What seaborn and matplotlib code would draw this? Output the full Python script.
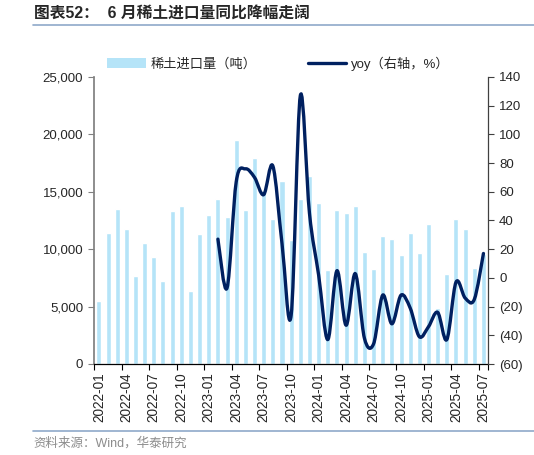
import numpy as np
import pandas as pd
import matplotlib
matplotlib.use("Agg")
import matplotlib.pyplot as plt
import seaborn as sns
from matplotlib.path import Path
from matplotlib.patches import PathPatch
from matplotlib.lines import Line2D
from matplotlib.patches import Patch
from matplotlib.ticker import FuncFormatter, FixedLocator

sns.set_theme(style="white")
plt.rcParams['font.family'] = ['Liberation Sans', 'Noto Sans CJK SC', 'DejaVu Sans']

# ---------------- data ----------------
months = [f"{y}-{m:02d}" for y in (2022, 2023, 2024, 2025) for m in range(1, 13)][:43]
imports = [5480, 11370, 13520, 11750, 7630, 10500, 9340, 7190, 13370, 13800, 6350, 11340,
           12990, 14410, 12820, 19490, 13400, 17900, 15000, 12670, 15940, 10800, 14350, 16380,
           14050, 8190, 13420, 13180, 13760, 9730, 8250, 11150, 10860, 9500, 11390, 9700,
           12170, 4850, 7810, 12630, 11730, 8400, 9600]
yoy_start = "2023-02"
yoy = [27, -7, 67, 76, 70, 58, 78, 24, -26, 127, 45, 2, -43, 5, -33, 3, -42, -46,
       -12, -32, -12, -21, -41, -34, -24, -43, -3, -14, -15, 17]

bar_label = "稀土进口量（吨）"
line_label = "yoy（右轴，%）"
title = "图表52：  6 月稀土进口量同比降幅走阔"
source = "资料来源：Wind，华泰研究"

bar_color = "#B5E4F8"
line_color = "#002060"

df = pd.DataFrame({"month": months, "imports": imports})

fig = plt.figure(figsize=(5.34, 4.55), dpi=100)
ax = fig.add_axes([0.1766, 0.2, 0.9139 - 0.1766, 0.8308 - 0.2])
sns.barplot(data=df, x="month", y="imports", color=bar_color, width=0.55,
            saturation=1, ax=ax, zorder=1)
ax.set_xlim(-0.5, len(months) - 0.5)
ax.set_ylim(0, 25000)
ax.set_yticks(np.arange(0, 25001, 5000))
ax.yaxis.set_major_formatter(FuncFormatter(lambda v, p: f"{int(v):,}"))
ax.set_xlabel("")
ax.set_ylabel("")

# x ticks: marks at category boundaries every 3 months, labels at centers
label_pos = list(range(0, len(months), 3))
ax.xaxis.set_major_locator(FixedLocator([p - 0.5 for p in label_pos] + [len(months) - 0.5]))
ax.set_xticklabels([])
ax.xaxis.set_minor_locator(FixedLocator(label_pos))
ax.set_xticks(label_pos, minor=True)
ax.set_xticklabels([months[i] for i in label_pos], minor=True, rotation=90, fontsize=9.8)
ax.tick_params(axis="x", which="major", direction="out", length=4, width=0.8, color="black", bottom=True)
ax.tick_params(axis="x", which="minor", length=0, pad=6, bottom=True)
ax.tick_params(axis="y", direction="out", length=4, width=0.8, color="#808080", labelsize=9.5, left=True, pad=4)

for s in ["top", "right"]:
    ax.spines[s].set_visible(False)
ax.spines["left"].set_color("#808080")
ax.spines["bottom"].set_color("black")
ax.spines["bottom"].set_linewidth(0.9)

ax2 = ax.twinx()
ax2.set_ylim(-60, 140)
ax2.set_yticks(np.arange(-60, 141, 20))
ax2.yaxis.set_major_formatter(FuncFormatter(lambda v, p: f"({abs(int(v))})" if v < 0 else f"{int(v)}"))
ax2.tick_params(axis="y", direction="out", length=4, width=0.8, color="#404040", labelsize=9.5, right=True, pad=4)
for s in ["top", "left", "bottom"]:
    ax2.spines[s].set_visible(False)
ax2.spines["right"].set_color("#404040")
ax2.spines["right"].set_linewidth(0.9)
ax2.grid(False)
ax.grid(False)

# smoothed yoy line (Catmull-Rom Bezier through data points)
i0 = months.index(yoy_start)
xs = np.arange(i0, i0 + len(yoy), dtype=float)
ys = np.array(yoy, dtype=float)
P = np.column_stack([xs, ys])
verts = [tuple(P[0])]
codes = [Path.MOVETO]
n = len(P)
for i in range(n - 1):
    p0 = P[i - 1] if i > 0 else P[i]
    p1 = P[i]
    p2 = P[i + 1]
    p3 = P[i + 2] if i + 2 < n else P[i + 1]
    c1 = p1 + (p2 - p0) / 6.0
    c2 = p2 - (p3 - p1) / 6.0
    verts += [tuple(c1), tuple(c2), tuple(p2)]
    codes += [Path.CURVE4] * 3
patch = PathPatch(Path(verts, codes), facecolor="none", edgecolor=line_color,
                  linewidth=2.4, capstyle="round", joinstyle="round",
                  transform=ax2.transData, zorder=3)
ax2.add_patch(patch)
ax2.set_xlim(-0.5, len(months) - 0.5)

handles = [Patch(facecolor=bar_color, edgecolor="none"),
           Line2D([0], [0], color=line_color, lw=2.4)]
ax.legend(handles, [bar_label, line_label], loc="lower center",
          bbox_to_anchor=(0.467, 0.995), ncol=2, frameon=False, fontsize=9.5,
          handlelength=2.9, handleheight=0.7, columnspacing=3.9, handletextpad=0.35,
          borderaxespad=0.2)

# title, separators, source
fig.text(0.064, 0.969, title, fontsize=11.3, fontweight="bold", ha="left", va="center",
         family=['Liberation Sans', 'Noto Sans CJK SC'])
fig.add_artist(Line2D([0.062, 1.0], [0.945, 0.945], color="#8FA9C9", lw=1.2))
fig.add_artist(Line2D([0.062, 1.0], [0.0527, 0.0527], color="#8FA9C9", lw=1.2))
fig.text(0.062, 0.026, source, fontsize=9, color="#8C8C8C", ha="left", va="center")

fig.savefig("out.png", dpi=100)
